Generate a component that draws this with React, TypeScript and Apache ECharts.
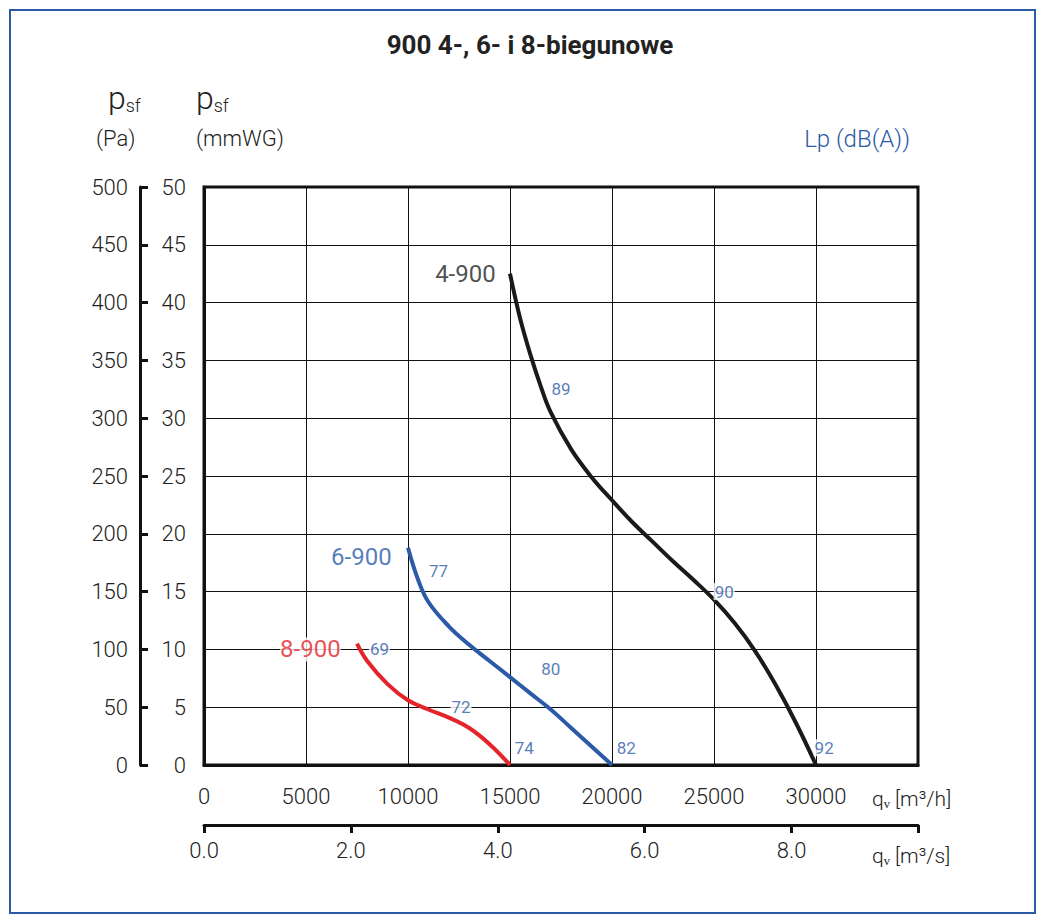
import React, { useEffect, useRef } from "react";
import * as echarts from "echarts";

const xTicksM3h = [0, 5000, 10000, 15000, 20000, 25000, 30000];
const curve4: [number, number][] = [[15000,42.5],[15500,38.6],[16000,35.5],[16500,32.8],[17000,30.5],[18000,27.3],[19000,24.9],[20000,22.9],[21000,21],[22000,19.3],[23000,17.6],[24000,16],[25000,14.3],[26000,12.3],[27000,9.9],[28000,7],[29000,3.7],[30000,0]];
const curve6: [number, number][] = [[10000,18.8],[10500,16],[11000,14.1],[12000,12],[13000,10.4],[14000,9],[15000,7.6],[16000,6.2],[17000,4.8],[18000,3.2],[19000,1.6],[20000,0]];
const curve8: [number, number][] = [[7500,10.5],[8000,9],[9000,7],[10000,5.6],[11000,4.8],[12000,4.1],[13000,3.2],[14000,1.8],[15000,0]];
const lpLabels: [number, number, string][] = [[17500,32.5,"89"],[25500,15,"90"],[11500,16.8,"77"],[17000,8.3,"80"],[8600,10,"69"],[12600,5,"72"],[15700,1.5,"74"],[20700,1.5,"82"],[30400,1.5,"92"]];
const curveNames: [number, number, string, string][] = [[14300,42.5,"4-900","#222"],[9200,18,"6-900","#2b5aa8"],[6700,10,"8-900","#e5232b"]];

const BLUE = "#2b5aa8";
const FONT = "Roboto";

export default function App() {
  const ref = useRef<HTMLDivElement>(null);
  useEffect(() => {
    const chart = echarts.init(ref.current!, null, { renderer: "svg" });
    const lineS = (data: [number, number][], color: string) => ({
      type: "line", data, smooth: 0.4, symbol: "none", lineStyle: { color, width: 4 }, xAxisIndex: 0, yAxisIndex: 0,
    });
    const axLine = { show: true, onZero: false, lineStyle: { color: "#111", width: 3 } };
    chart.setOption({
      animation: false,
      textStyle: { fontFamily: FONT },
      grid: { left: 204, right: 127, top: 187, bottom: 155, show: true, borderColor: "#111", borderWidth: 3 },
      xAxis: [
        { type: "value", min: 0, max: 35000, interval: 5000, position: "bottom",
          axisLine: axLine, axisTick: { show: false },
          splitLine: { lineStyle: { color: "#111", width: 1 } },
          axisLabel: { color: "#222", fontSize: 22, fontWeight: 300, margin: 20, formatter: (v: number) => (v > 30000 ? "" : String(v)) } },
        { type: "value", min: 0, max: 35000 / 3600, interval: 2, position: "bottom", offset: 60,
          axisLine: axLine, axisTick: { show: true, length: 8, lineStyle: { color: "#111", width: 3 } },
          splitLine: { show: false },
          axisLabel: { color: "#222", fontSize: 22, fontWeight: 300, margin: 14, formatter: (v: number) => (v > 9 ? "" : v.toFixed(1)) } },
      ],
      yAxis: [
        { type: "value", min: 0, max: 50, interval: 5, position: "left",
          axisLine: axLine, axisTick: { show: false },
          splitLine: { lineStyle: { color: "#111", width: 1 } },
          axisLabel: { color: "#222", fontSize: 22, fontWeight: 300, margin: 18 } },
        { type: "value", min: 0, max: 500, interval: 50, position: "left", offset: 64,
          axisLine: axLine,
          axisTick: { show: true, inside: true, length: 8, lineStyle: { color: "#111", width: 3 } },
          splitLine: { show: false },
          axisLabel: { color: "#222", fontSize: 22, fontWeight: 300, margin: 12 } },
      ],
      series: [
        lineS(curve4, "#1a1a1a"),
        lineS(curve6, BLUE),
        lineS(curve8, "#e5232b"),
        { type: "scatter", symbolSize: 0, data: lpLabels.map(d => ({ value: [d[0], d[1]], name: d[2] })),
          label: { show: true, position: "inside", formatter: "{b}", color: BLUE, fontSize: 17, fontWeight: 400, backgroundColor: "#fff", padding: [0, 1] }, z: 5 },
        { type: "scatter", symbolSize: 0, data: curveNames.map(d => ({ value: [d[0], d[1]], name: d[2], label: { color: d[3] } })),
          label: { show: true, position: "left", distance: 0, formatter: "{b}", fontSize: 24, fontWeight: 400, backgroundColor: "#fff" }, z: 5 },
      ],
      graphic: [
        { type: "rect", shape: { x: 10, y: 10, width: 1025, height: 903 }, style: { fill: "none", stroke: BLUE, lineWidth: 2 } },
        { type: "text", x: 530, y: 45, style: { text: "900 4-, 6- i 8-biegunowe", fontFamily: FONT, fontSize: 26, fontWeight: "bold", fill: "#222", textAlign: "center", textVerticalAlign: "middle" } },
        { type: "text", x: 108, y: 82, style: { text: "{a|p}{b|sf}", rich: { a: { fontSize: 32, fontWeight: 300, fontFamily: FONT, fill: "#222" }, b: { fontSize: 18, fontWeight: 300, fontFamily: FONT, fill: "#222", padding: [14, 0, 0, 0] } } } },
        { type: "text", x: 96, y: 127, style: { text: "(Pa)", fontFamily: FONT, fontSize: 22, fontWeight: 300, fill: "#222" } },
        { type: "text", x: 196, y: 82, style: { text: "{a|p}{b|sf}", rich: { a: { fontSize: 32, fontWeight: 300, fontFamily: FONT, fill: "#222" }, b: { fontSize: 18, fontWeight: 300, fontFamily: FONT, fill: "#222", padding: [14, 0, 0, 0] } } } },
        { type: "text", x: 196, y: 127, style: { text: "(mmWG)", fontFamily: FONT, fontSize: 22, fontWeight: 300, fill: "#222" } },
        { type: "text", x: 910, y: 127, style: { text: "Lp (dB(A))", fontFamily: FONT, fontSize: 24, fontWeight: 300, fill: BLUE, textAlign: "right" } },
        { type: "text", x: 872, y: 788, style: { text: "qᵥ [m³/h]", fontFamily: FONT, fontSize: 21, fontWeight: 300, fill: "#222" } },
        { type: "text", x: 872, y: 845, style: { text: "qᵥ [m³/s]", fontFamily: FONT, fontSize: 21, fontWeight: 300, fill: "#222" } },
      ],
    });
    return () => chart.dispose();
  }, []);
  return <div ref={ref} style={{ position: "fixed", left: 0, top: 0, width: 1045, height: 920, background: "#fff" }} />;
}
